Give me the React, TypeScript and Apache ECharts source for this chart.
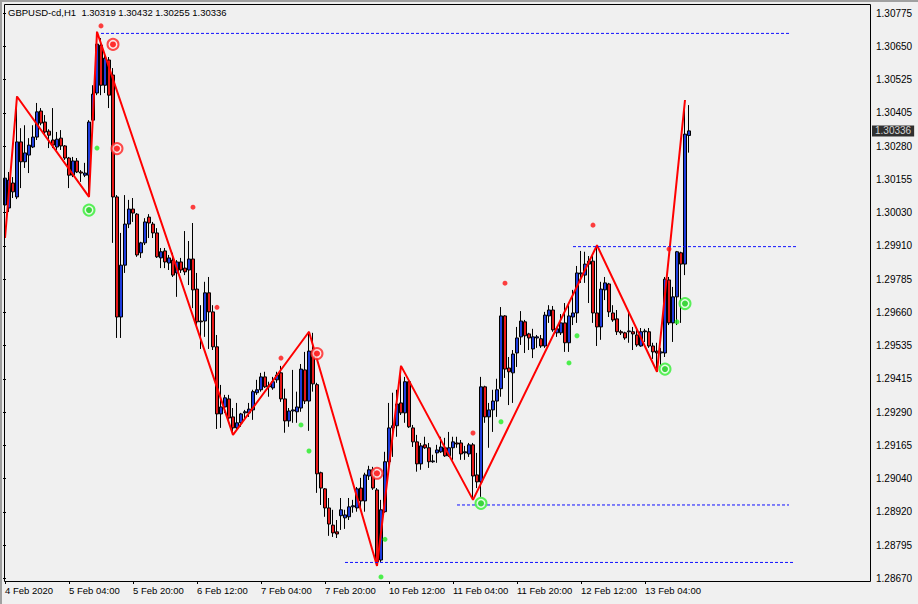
import React, { useEffect, useRef } from 'react';
import * as echarts from 'echarts';

const symbolTitle = 'GBPUSD-cd,H1';
const headerValues = ['1.30319', '1.30432', '1.30255', '1.30336'];

const timeLabels = [
  '4 Feb 2020', '5 Feb 04:00', '5 Feb 20:00', '6 Feb 12:00', '7 Feb 04:00', '7 Feb 20:00',
  '10 Feb 12:00', '11 Feb 04:00', '11 Feb 20:00', '12 Feb 12:00', '13 Feb 04:00',
];

const priceLabels = [
  '1.28670', '1.28795', '1.28920', '1.29040', '1.29165', '1.29290', '1.29415', '1.29535', '1.29660',
  '1.29785', '1.29910', '1.30030', '1.30155', '1.30280', '1.30405', '1.30525', '1.30650', '1.30775',
];

const opens = [
  1.30060, 1.30049, 1.30142, 1.30090, 1.30295, 1.30221, 1.30246, 1.30276, 1.30313, 1.30410,
  1.30369, 1.30335, 1.30302, 1.30276, 1.30309, 1.30280, 1.30235, 1.30171, 1.30224, 1.30183,
  1.30171, 1.30171, 1.30376, 1.30477, 1.30655, 1.30506, 1.30600, 1.30544, 1.30090, 1.29643,
  1.29836, 1.29989, 1.30045, 1.30026, 1.29882, 1.29919, 1.30015, 1.29989, 1.29956, 1.29863,
  1.29889, 1.29844, 1.29855, 1.29807, 1.29848, 1.29825, 1.29818, 1.29859, 1.29747, 1.29628,
  1.29628, 1.29733, 1.29662, 1.29532, 1.29282, 1.29308, 1.29338, 1.29271, 1.29230, 1.29249,
  1.29286, 1.29286, 1.29297, 1.29361, 1.29372, 1.29420, 1.29383, 1.29379, 1.29409, 1.29435,
  1.29338, 1.29256, 1.29293, 1.29290, 1.29304, 1.29446, 1.29330, 1.29516, 1.29391, 1.29063,
  1.29003, 1.28932, 1.28868, 1.28843, 1.28903, 1.28895, 1.28899, 1.28936, 1.28932, 1.29006,
  1.28958, 1.29051, 1.29074, 1.28999, 1.28738, 1.28918, 1.29104, 1.29230, 1.29238, 1.29323,
  1.29286, 1.29402, 1.29230, 1.29178, 1.29096, 1.29167, 1.29156, 1.29104, 1.29137, 1.29141,
  1.29156, 1.29126, 1.29156, 1.29174, 1.29174, 1.29137, 1.29133, 1.29167, 1.29055, 1.29029,
  1.29383, 1.29271, 1.29297, 1.29330, 1.29376, 1.29647, 1.29453, 1.29435, 1.29509, 1.29569,
  1.29625, 1.29580, 1.29524, 1.29565, 1.29562, 1.29535, 1.29647, 1.29669, 1.29584, 1.29584,
  1.29621, 1.29547, 1.29643, 1.29658, 1.29803, 1.29799, 1.29840, 1.29851, 1.29658, 1.29606,
  1.29744, 1.29766, 1.29658, 1.29636, 1.29588, 1.29584, 1.29588, 1.29588, 1.29576, 1.29535,
  1.29588, 1.29588, 1.29535, 1.29516, 1.29509, 1.29509, 1.29781, 1.29621, 1.29718, 1.29882,
  1.29840, 1.30319,
];

const highs = [
  1.30186, 1.30183, 1.30164, 1.30464, 1.30346, 1.30357, 1.30309, 1.30357, 1.30440, 1.30421,
  1.30395, 1.30342, 1.30421, 1.30332, 1.30339, 1.30283, 1.30239, 1.30239, 1.30235, 1.30190,
  1.30217, 1.30376, 1.30506, 1.30705, 1.30682, 1.30626, 1.30611, 1.30570, 1.30097, 1.29956,
  1.30097, 1.30079, 1.30086, 1.30030, 1.29923, 1.30011, 1.30026, 1.29997, 1.29974, 1.29900,
  1.29900, 1.29874, 1.29882, 1.29855, 1.29863, 1.29963, 1.29926, 1.29993, 1.29807, 1.29687,
  1.29774, 1.29792, 1.29687, 1.29576, 1.29390, 1.29353, 1.29353, 1.29304, 1.29323, 1.29286,
  1.29297, 1.29323, 1.29372, 1.29409, 1.29435, 1.29439, 1.29402, 1.29420, 1.29439, 1.29461,
  1.29376, 1.29304, 1.29446, 1.29365, 1.29468, 1.29513, 1.29588, 1.29584, 1.29398, 1.29067,
  1.29006, 1.28969, 1.28925, 1.28887, 1.28969, 1.28925, 1.28969, 1.28962, 1.29010, 1.29044,
  1.29063, 1.29089, 1.29085, 1.29006, 1.28962, 1.29141, 1.29323, 1.29361, 1.29372, 1.29461,
  1.29420, 1.29409, 1.29241, 1.29204, 1.29174, 1.29197, 1.29174, 1.29130, 1.29167, 1.29197,
  1.29193, 1.29215, 1.29197, 1.29197, 1.29185, 1.29163, 1.29174, 1.29174, 1.29137, 1.29420,
  1.29387, 1.29323, 1.29372, 1.29413, 1.29680, 1.29650, 1.29494, 1.29520, 1.29606, 1.29665,
  1.29632, 1.29584, 1.29599, 1.29576, 1.29576, 1.29662, 1.29687, 1.29684, 1.29606, 1.29654,
  1.29695, 1.29695, 1.29744, 1.29833, 1.29889, 1.29886, 1.29870, 1.29874, 1.29910, 1.29774,
  1.29792, 1.29770, 1.29687, 1.29669, 1.29595, 1.29588, 1.29658, 1.29606, 1.29602, 1.29602,
  1.29599, 1.29602, 1.29547, 1.29547, 1.29528, 1.29792, 1.29792, 1.29755, 1.29889, 1.29886,
  1.30451, 1.30432,
];

const lows = [
  1.29937, 1.30034, 1.30086, 1.30082, 1.30123, 1.30198, 1.30179, 1.30272, 1.30302, 1.30357,
  1.30320, 1.30272, 1.30272, 1.30265, 1.30265, 1.30228, 1.30123, 1.30164, 1.30179, 1.30146,
  1.30164, 1.30090, 1.30335, 1.30469, 1.30469, 1.30477, 1.30421, 1.29919, 1.29565, 1.29565,
  1.29807, 1.29974, 1.29997, 1.29867, 1.29863, 1.29911, 1.29937, 1.29937, 1.29863, 1.29825,
  1.29825, 1.29818, 1.29792, 1.29718, 1.29807, 1.29799, 1.29762, 1.29676, 1.29613, 1.29524,
  1.29569, 1.29524, 1.29520, 1.29226, 1.29230, 1.29286, 1.29260, 1.29204, 1.29223, 1.29234,
  1.29260, 1.29271, 1.29260, 1.29353, 1.29365, 1.29379, 1.29346, 1.29372, 1.29398, 1.29327,
  1.29212, 1.29234, 1.29249, 1.29249, 1.29290, 1.29319, 1.29219, 1.29365, 1.28988, 1.28943,
  1.28899, 1.28828, 1.28824, 1.28820, 1.28850, 1.28854, 1.28887, 1.28914, 1.28918, 1.28925,
  1.28918, 1.29036, 1.28999, 1.28716, 1.28731, 1.28914, 1.29074, 1.29122, 1.29197, 1.29278,
  1.29249, 1.29230, 1.29159, 1.29067, 1.29074, 1.29152, 1.29081, 1.29100, 1.29100, 1.29137,
  1.29122, 1.29122, 1.29111, 1.29156, 1.29111, 1.29111, 1.29122, 1.28962, 1.29006, 1.28973,
  1.29249, 1.29156, 1.29215, 1.29271, 1.29346, 1.29416, 1.29315, 1.29323, 1.29457, 1.29539,
  1.29509, 1.29520, 1.29490, 1.29528, 1.29528, 1.29528, 1.29621, 1.29588, 1.29569, 1.29576,
  1.29513, 1.29513, 1.29613, 1.29621, 1.29770, 1.29770, 1.29695, 1.29621, 1.29535, 1.29558,
  1.29706, 1.29643, 1.29625, 1.29576, 1.29576, 1.29558, 1.29547, 1.29520, 1.29532, 1.29532,
  1.29550, 1.29528, 1.29487, 1.29439, 1.29465, 1.29494, 1.29613, 1.29550, 1.29613, 1.29621,
  1.29799, 1.30255,
];

const closes = [
  1.30160, 1.30153, 1.30109, 1.30295, 1.30221, 1.30254, 1.30283, 1.30313, 1.30407, 1.30365,
  1.30332, 1.30320, 1.30283, 1.30305, 1.30280, 1.30235, 1.30171, 1.30224, 1.30183, 1.30179,
  1.30179, 1.30369, 1.30473, 1.30659, 1.30506, 1.30607, 1.30469, 1.30090, 1.29643, 1.29836,
  1.29989, 1.30045, 1.30030, 1.29874, 1.29919, 1.29997, 1.29993, 1.29956, 1.29867, 1.29886,
  1.29848, 1.29863, 1.29799, 1.29848, 1.29818, 1.29811, 1.29859, 1.29744, 1.29625, 1.29625,
  1.29733, 1.29662, 1.29532, 1.29282, 1.29308, 1.29342, 1.29267, 1.29230, 1.29249, 1.29282,
  1.29290, 1.29300, 1.29365, 1.29372, 1.29420, 1.29383, 1.29387, 1.29402, 1.29427, 1.29338,
  1.29256, 1.29293, 1.29297, 1.29308, 1.29449, 1.29330, 1.29516, 1.29394, 1.29059, 1.29006,
  1.28932, 1.28872, 1.28839, 1.28835, 1.28925, 1.28906, 1.28936, 1.28940, 1.29003, 1.28958,
  1.29055, 1.29074, 1.29006, 1.28731, 1.28925, 1.29104, 1.29230, 1.29238, 1.29319, 1.29286,
  1.29402, 1.29234, 1.29178, 1.29096, 1.29163, 1.29156, 1.29104, 1.29107, 1.29148, 1.29159,
  1.29126, 1.29156, 1.29178, 1.29170, 1.29133, 1.29141, 1.29167, 1.29051, 1.29029, 1.29383,
  1.29271, 1.29297, 1.29330, 1.29372, 1.29647, 1.29449, 1.29439, 1.29505, 1.29565, 1.29628,
  1.29573, 1.29565, 1.29569, 1.29569, 1.29535, 1.29650, 1.29669, 1.29595, 1.29599, 1.29621,
  1.29547, 1.29647, 1.29658, 1.29807, 1.29807, 1.29840, 1.29851, 1.29658, 1.29606, 1.29747,
  1.29770, 1.29662, 1.29632, 1.29588, 1.29584, 1.29565, 1.29591, 1.29580, 1.29539, 1.29588,
  1.29591, 1.29535, 1.29513, 1.29509, 1.29513, 1.29784, 1.29621, 1.29718, 1.29886, 1.29840,
  1.30324, 1.30336,
];

const zigzagBars = [0, 3, 21, 23, 57, 76, 93, 99, 117, 148, 163, 170];
const zigzagPrices = [1.29937, 1.30464, 1.30090, 1.30705, 1.29204, 1.29588, 1.28716, 1.29461, 1.28962, 1.29910, 1.29439, 1.30451];

const levelPrices = [1.30699, 1.29905, 1.28943, 1.28729];
const levelStartBars = [24, 142, 113, 85];
const levelEndBars = [196, 198, 196, 197];

const redDotBars = [24, 47, 53, 69, 117, 125, 147, 166];
const redDotPrices = [1.30727, 1.30052, 1.29679, 1.29490, 1.29211, 1.29769, 1.29985, 1.29896];
const greenDotBars = [23, 74, 76, 94, 95, 124, 141, 143, 168];
const greenDotPrices = [1.30272, 1.29241, 1.29144, 1.28675, 1.28815, 1.29253, 1.29472, 1.29573, 1.29625];
const redRingBars = [27, 28, 78, 93];
const redRingPrices = [1.30658, 1.30270, 1.29507, 1.29061];
const greenRingBars = [21, 119, 165, 170];
const greenRingPrices = [1.30041, 1.28949, 1.29449, 1.29693];

const TOTAL_SLOTS = 217;
const FONT = 'Liberation Sans';

export default function App() {
  const ref = useRef<HTMLDivElement>(null);

  useEffect(() => {
    const chart = echarts.init(ref.current as HTMLDivElement, null, { renderer: 'svg' });
    const cats = Array.from({ length: TOTAL_SLOTS }, (_, i) => String(i));
    const candles = opens.map((o, i) => [o, closes[i], lows[i], highs[i]]);
    const labelAt = (i: number) => i % 16 === 0 && i / 16 < timeLabels.length;
    const pts = (bars: number[], prices: number[]) => bars.map((b, i) => [b, prices[i]]);
    const lastCloseValue = closes[closes.length - 1];
    const lastClose = lastCloseValue.toFixed(5);

    const levelSeries = levelPrices.map((p, i) => ({
      type: 'line',
      xAxisIndex: 0,
      yAxisIndex: 0,
      data: [[levelStartBars[i], p], [levelEndBars[i], p]],
      symbol: 'none',
      lineStyle: { color: '#1010FF', width: 1, type: [3, 2] },
      z: 4,
      silent: true,
    }));

    chart.setOption({
      animation: false,
      backgroundColor: '#F0F0F0',
      grid: [
        { left: 3, width: 868, top: 4, height: 577 },
        { left: 3, width: 868, top: 13, height: 565.3 },
      ],
      xAxis: [
        {
          type: 'category',
          gridIndex: 0,
          data: cats,
          boundaryGap: true,
          axisLine: { show: false },
          axisTick: {
            show: true,
            alignWithLabel: true,
            interval: labelAt,
            length: 3,
            lineStyle: { color: '#000' },
          },
          axisLabel: {
            interval: labelAt,
            formatter: (v: string) => timeLabels[Number(v) / 16] ?? '',
            align: 'left',
            margin: 4,
            fontSize: 9.5,
            fontFamily: FONT,
            color: '#000',
          },
          splitLine: { show: false },
        },
        { type: 'value', gridIndex: 1, show: false, min: 0, max: 1 },
      ],
      yAxis: [
        {
          type: 'value',
          gridIndex: 0,
          min: 1.286599,
          max: 1.308085,
          show: false,
          splitLine: { show: false },
        },
        {
          type: 'value',
          gridIndex: 1,
          position: 'right',
          min: 0,
          max: 17,
          interval: 1,
          axisLine: { show: false },
          axisTick: { show: true, length: 3, lineStyle: { color: '#000' } },
          axisLabel: {
            formatter: (v: number) => priceLabels[Math.round(v)] ?? '',
            margin: 5,
            fontSize: 10,
            fontFamily: FONT,
            color: '#000',
          },
          splitLine: { show: false },
        },
      ],
      graphic: [
        { type: 'rect', shape: { x: 0, y: 0, width: 918, height: 2 }, style: { fill: '#A0A0A0' }, silent: true },
        { type: 'rect', shape: { x: 0, y: 0, width: 2, height: 604 }, style: { fill: '#A0A0A0' }, silent: true },
        {
          type: 'rect',
          shape: { x: 4.5, y: 4.5, width: 866, height: 577 },
          style: { fill: 'none', stroke: '#000', lineWidth: 1 },
          z: 10,
          silent: true,
        },
        {
          type: 'text',
          x: 8,
          y: 12,
          style: {
            text: symbolTitle + '  ' + headerValues.join(' '),
            font: '9.5px "Liberation Sans"',
            fill: '#000',
            verticalAlign: 'middle',
          },
          z: 10,
          silent: true,
        },
      ],
      series: [
        {
          type: 'candlestick',
          xAxisIndex: 0,
          yAxisIndex: 0,
          data: candles,
          barWidth: 3,
          itemStyle: {
            color: '#1E3CDC',
            color0: '#E81818',
            borderColor: '#000',
            borderColor0: '#000',
            borderWidth: 1,
          },
          z: 2,
        },
        {
          type: 'line',
          xAxisIndex: 0,
          yAxisIndex: 0,
          data: pts(zigzagBars, zigzagPrices),
          symbol: 'none',
          lineStyle: { color: '#FF0000', width: 2 },
          z: 3,
          silent: true,
        },
        ...levelSeries,
        {
          type: 'scatter',
          xAxisIndex: 0,
          yAxisIndex: 0,
          data: [[TOTAL_SLOTS - 1, lastCloseValue]],
          symbolSize: 0,
          silent: true,
          clip: false,
          label: {
            show: true,
            position: 'right',
            distance: 3,
            formatter: lastClose,
            color: '#fff',
            backgroundColor: '#000',
            padding: [1, 3, 0, 3],
            fontSize: 10,
            fontFamily: FONT,
          },
          z: 12,
        },
        {
          type: 'scatter',
          xAxisIndex: 0,
          yAxisIndex: 0,
          data: pts(redDotBars, redDotPrices),
          symbolSize: 5,
          itemStyle: { color: '#FF1010' },
          z: 5,
        },
        {
          type: 'scatter',
          xAxisIndex: 0,
          yAxisIndex: 0,
          data: pts(greenDotBars, greenDotPrices),
          symbolSize: 5,
          itemStyle: { color: '#22EE22' },
          z: 5,
        },
        {
          type: 'scatter',
          xAxisIndex: 0,
          yAxisIndex: 0,
          data: pts(redRingBars, redRingPrices),
          symbolSize: 11,
          itemStyle: { color: '#FFE4E4', borderColor: '#FF2020', borderWidth: 2 },
          z: 5,
        },
        {
          type: 'scatter',
          xAxisIndex: 0,
          yAxisIndex: 0,
          data: pts(redRingBars, redRingPrices),
          symbolSize: 6,
          itemStyle: { color: '#FF0000' },
          z: 6,
        },
        {
          type: 'scatter',
          xAxisIndex: 0,
          yAxisIndex: 0,
          data: pts(greenRingBars, greenRingPrices),
          symbolSize: 11,
          itemStyle: { color: '#E4FFE4', borderColor: '#33EE33', borderWidth: 2 },
          z: 5,
        },
        {
          type: 'scatter',
          xAxisIndex: 0,
          yAxisIndex: 0,
          data: pts(greenRingBars, greenRingPrices),
          symbolSize: 6,
          itemStyle: { color: '#11CC11' },
          z: 6,
        },
      ],
    });

    return () => chart.dispose();
  }, []);

  return (
    <div
      ref={ref}
      style={{ position: 'fixed', left: 0, top: 0, width: 918, height: 604, background: '#F0F0F0' }}
    />
  );
}
